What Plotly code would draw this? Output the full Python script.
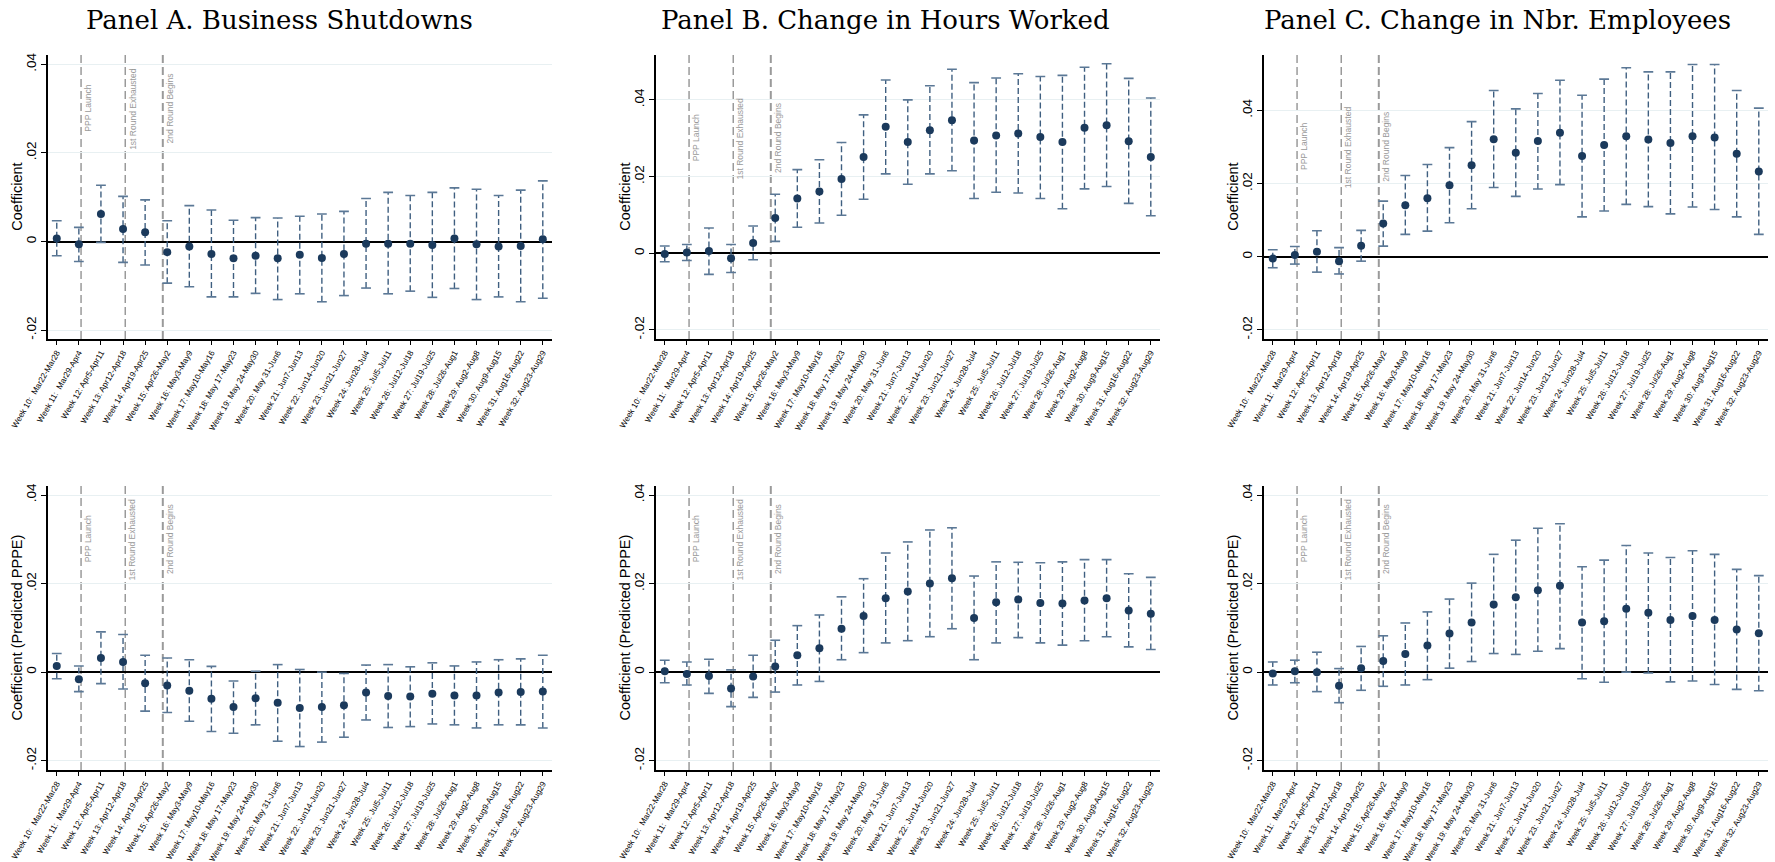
import plotly.graph_objects as go

# ---------------------------------------------------------------- data
weeks = list(range(10, 33))
week_labels = [
    "Week 10:  Mar22-Mar28", "Week 11:  Mar29-Apr4", "Week 12: Apr5-Apr11",
    "Week 13: Apr12-Apr18", "Week 14: Apr19-Apr25", "Week 15: Apr26-May2",
    "Week 16: May3-May9", "Week 17: May10-May16", "Week 18: May 17-May23",
    "Week 19: May 24-May30", "Week 20: May 31-Jun6", "Week 21: Jun7-Jun13",
    "Week 22: Jun14-Jun20", "Week 23: Jun21-Jun27", "Week 24: Jun28-Jul4",
    "Week 25: Jul5-Jul11", "Week 26: Jul12-Jul18", "Week 27: Jul19-Jul25",
    "Week 28: Jul26-Aug1", "Week 29: Aug2-Aug8", "Week 30: Aug9-Aug15",
    "Week 31: Aug16-Aug22", "Week 32: Aug23-Aug29",
]

# PPP milestones (position on the week axis) and their labels
event_weeks = [11.1, 13.1, 14.8]
event_labels = ["PPP Launch", "1st Round Exhausted", "2nd Round Begins"]

# Panel A: business shutdowns
shut_coef = [0.0007, -0.0006, 0.0062, 0.0028, 0.0021, -0.0024, -0.0011, -0.0028,
             -0.0038, -0.0032, -0.0038, -0.0030, -0.0037, -0.0028, -0.0005, -0.0005,
             -0.0005, -0.0008, 0.0007, -0.0006, -0.0011, -0.0010, 0.0005]
shut_lo = [-0.0032, -0.0045, -0.0002, -0.0047, -0.0053, -0.0094, -0.0102, -0.0125,
           -0.0125, -0.0117, -0.0131, -0.0118, -0.0136, -0.0122, -0.0105, -0.0118,
           -0.0112, -0.0126, -0.0106, -0.0131, -0.0125, -0.0136, -0.0128]
shut_hi = [0.0047, 0.0032, 0.0127, 0.0102, 0.0094, 0.0047, 0.0081, 0.0071,
           0.0048, 0.0054, 0.0053, 0.0057, 0.0062, 0.0068, 0.0097, 0.0111,
           0.0104, 0.0111, 0.0121, 0.0118, 0.0104, 0.0116, 0.0137]

# Panel B: change in hours worked
hours_coef = [-0.0002, 0.0002, 0.0006, -0.0013, 0.0027, 0.0092, 0.0143, 0.0161,
              0.0194, 0.0251, 0.0330, 0.0290, 0.0321, 0.0347, 0.0294, 0.0307,
              0.0312, 0.0303, 0.0290, 0.0327, 0.0334, 0.0292, 0.0251]
hours_lo = [-0.0022, -0.0019, -0.0055, -0.0050, -0.0017, 0.0031, 0.0068, 0.0079,
            0.0099, 0.0141, 0.0207, 0.0180, 0.0207, 0.0215, 0.0143, 0.0159,
            0.0157, 0.0143, 0.0116, 0.0168, 0.0174, 0.0130, 0.0098]
hours_hi = [0.0019, 0.0023, 0.0066, 0.0023, 0.0071, 0.0154, 0.0218, 0.0244,
            0.0289, 0.0361, 0.0452, 0.0400, 0.0437, 0.0480, 0.0445, 0.0457,
            0.0468, 0.0461, 0.0464, 0.0485, 0.0494, 0.0456, 0.0405]

# Panel C: change in number of employees
emp_coef = [-0.0005, 0.0005, 0.0014, -0.0012, 0.0030, 0.0091, 0.0141, 0.0160,
            0.0195, 0.0250, 0.0321, 0.0284, 0.0316, 0.0339, 0.0275, 0.0305,
            0.0329, 0.0320, 0.0311, 0.0329, 0.0326, 0.0281, 0.0233]
emp_lo = [-0.0030, -0.0020, -0.0042, -0.0047, -0.0012, 0.0029, 0.0061, 0.0070,
          0.0093, 0.0131, 0.0189, 0.0165, 0.0185, 0.0197, 0.0109, 0.0125,
          0.0143, 0.0137, 0.0117, 0.0136, 0.0129, 0.0109, 0.0061]
emp_hi = [0.0019, 0.0028, 0.0071, 0.0025, 0.0072, 0.0152, 0.0222, 0.0252,
          0.0298, 0.0369, 0.0454, 0.0404, 0.0446, 0.0482, 0.0441, 0.0485,
          0.0516, 0.0505, 0.0505, 0.0525, 0.0525, 0.0454, 0.0406]

# Predicted-PPPE versions
shut_pppe_coef = [0.0014, -0.0016, 0.0032, 0.0023, -0.0025, -0.0030, -0.0042, -0.0060,
                  -0.0079, -0.0059, -0.0069, -0.0081, -0.0079, -0.0075, -0.0046, -0.0054,
                  -0.0055, -0.0049, -0.0053, -0.0053, -0.0046, -0.0045, -0.0044]
shut_pppe_lo = [-0.0015, -0.0044, -0.0026, -0.0038, -0.0088, -0.0091, -0.0111, -0.0134,
                -0.0138, -0.0119, -0.0156, -0.0168, -0.0158, -0.0147, -0.0108, -0.0125,
                -0.0123, -0.0117, -0.0119, -0.0126, -0.0119, -0.0119, -0.0126]
shut_pppe_hi = [0.0042, 0.0014, 0.0091, 0.0085, 0.0038, 0.0032, 0.0028, 0.0013,
                -0.0020, 0.0002, 0.0017, 0.0006, 0.0000, -0.0003, 0.0016, 0.0017,
                0.0012, 0.0021, 0.0014, 0.0023, 0.0028, 0.0030, 0.0038]

hours_pppe_coef = [0.0002, -0.0004, -0.0009, -0.0037, -0.0010, 0.0013, 0.0038, 0.0054,
                   0.0098, 0.0127, 0.0167, 0.0182, 0.0200, 0.0212, 0.0122, 0.0158,
                   0.0164, 0.0156, 0.0155, 0.0162, 0.0167, 0.0139, 0.0132]
hours_pppe_lo = [-0.0024, -0.0029, -0.0048, -0.0078, -0.0057, -0.0045, -0.0029, -0.0021,
                 0.0028, 0.0044, 0.0066, 0.0071, 0.0080, 0.0098, 0.0028, 0.0066,
                 0.0078, 0.0066, 0.0061, 0.0071, 0.0080, 0.0057, 0.0051]
hours_pppe_hi = [0.0027, 0.0023, 0.0029, 0.0005, 0.0038, 0.0072, 0.0105, 0.0129,
                 0.0170, 0.0211, 0.0269, 0.0294, 0.0321, 0.0326, 0.0217, 0.0249,
                 0.0248, 0.0247, 0.0249, 0.0254, 0.0254, 0.0222, 0.0214]

emp_pppe_coef = [-0.0003, 0.0002, 0.0000, -0.0031, 0.0009, 0.0025, 0.0041, 0.0060,
                 0.0087, 0.0112, 0.0153, 0.0169, 0.0185, 0.0195, 0.0112, 0.0115,
                 0.0143, 0.0134, 0.0118, 0.0127, 0.0118, 0.0096, 0.0088]
emp_pppe_lo = [-0.0029, -0.0024, -0.0044, -0.0069, -0.0041, -0.0032, -0.0029, -0.0017,
               0.0009, 0.0024, 0.0042, 0.0040, 0.0047, 0.0053, -0.0015, -0.0023,
               0.0000, -0.0002, -0.0022, -0.0020, -0.0028, -0.0039, -0.0042]
emp_pppe_hi = [0.0023, 0.0027, 0.0045, 0.0008, 0.0058, 0.0082, 0.0111, 0.0136,
               0.0165, 0.0201, 0.0266, 0.0298, 0.0325, 0.0335, 0.0238, 0.0253,
               0.0286, 0.0269, 0.0259, 0.0274, 0.0266, 0.0232, 0.0218]

panel_titles = ["Panel A. Business Shutdowns", "Panel B. Change in Hours Worked",
                "Panel C. Change in Nbr. Employees"]
y_titles = ["Coefficient", "Coefficient (Predicted PPPE)"]
y_tickvals = [-0.02, 0, 0.02, 0.04]
y_ticktext = ["-.02", "0", ".02", ".04"]

# ---------------------------------------------------------------- styling
W, H = 1775, 862
DOT = "#1b3a5c"
BAR = "#3f5f80"
CAP = "#5b7896"
EVENT = "#9a9a9a"
GRID = "#e8f0f2"
SANS = "Liberation Sans, Arial, sans-serif"
SERIF = "DejaVu Serif, Liberation Serif, serif"

col_x = [(47.7, 552.3), (655.7, 1160.3), (1263.7, 1768.3)]   # px
row_y = [(55.0, 339.0), (485.7, 770.0)]                      # px from top
x_range = [9.59, 32.43]
y_ranges = [
    [[-0.0220, 0.0421], [-0.02235, 0.0517], [-0.02246, 0.0551]],
    [[-0.0221, 0.0421], [-0.0221, 0.0421], [-0.0221, 0.0421]],
]

series = [
    [(shut_coef, shut_lo, shut_hi), (hours_coef, hours_lo, hours_hi), (emp_coef, emp_lo, emp_hi)],
    [(shut_pppe_coef, shut_pppe_lo, shut_pppe_hi),
     (hours_pppe_coef, hours_pppe_lo, hours_pppe_hi),
     (emp_pppe_coef, emp_pppe_lo, emp_pppe_hi)],
]

fig = go.Figure()
annotations = []
shapes = []
layout = {}

n = 0
for r in range(2):
    for c in range(3):
        n += 1
        xs = "" if n == 1 else str(n)
        xref, yref = "x" + xs, "y" + xs
        coef, lo, hi = series[r][c]

        # dashed confidence intervals
        bx, by = [], []
        for w, l, h in zip(weeks, lo, hi):
            bx += [w, w, None]
            by += [l, h, None]
        fig.add_trace(go.Scatter(x=bx, y=by, mode="lines", xaxis=xref, yaxis=yref,
                                 line=dict(color=BAR, width=1.4, dash="6px,3px"),
                                 hoverinfo="skip", showlegend=False))
        # caps at the interval ends
        fig.add_trace(go.Scatter(x=weeks + weeks, y=lo + hi, mode="markers",
                                 xaxis=xref, yaxis=yref,
                                 marker=dict(symbol="line-ew", size=7,
                                             line=dict(color=CAP, width=1.6)),
                                 hoverinfo="skip", showlegend=False))
        # point estimates
        fig.add_trace(go.Scatter(x=weeks, y=coef, mode="markers", xaxis=xref, yaxis=yref,
                                 marker=dict(color=DOT, size=8),
                                 showlegend=False))

        x0, x1 = col_x[c]
        yt, yb = row_y[r]
        layout["xaxis" + xs] = dict(
            domain=[x0 / W, x1 / W], anchor=yref, range=x_range,
            tickmode="array", tickvals=weeks, ticktext=week_labels, tickangle=-60,
            tickfont=dict(family=SANS, size=8.2, color="black"),
            ticks="outside", ticklen=4, tickwidth=1.2, tickcolor="black",
            showline=True, linecolor="black", linewidth=1.5,
            showgrid=False, zeroline=False, automargin=False,
        )
        layout["yaxis" + xs] = dict(
            domain=[1 - yb / H, 1 - yt / H], anchor=xref, range=y_ranges[r][c],
            tickmode="array", tickvals=y_tickvals, ticktext=y_ticktext, tickangle=-90,
            tickfont=dict(family=SANS, size=13.5, color="black"),
            ticks="outside", ticklen=5, tickwidth=1.2, tickcolor="black",
            showline=True, linecolor="black", linewidth=1.5,
            showgrid=True, gridcolor=GRID, gridwidth=1.3,
            zeroline=True, zerolinecolor="black", zerolinewidth=1.6,
            automargin=False,
        )

        # axis title, centred on the plot height
        annotations.append(dict(x=0, y=0.5, xref=xref + " domain", yref=yref + " domain",
                                text=y_titles[r], textangle=-90, showarrow=False,
                                xanchor="center", yanchor="middle", xshift=-31,
                                font=dict(family=SANS, size=14.5, color="black")))

        for k, (ev, lab) in enumerate(zip(event_weeks, event_labels)):
            shapes.append(dict(type="line", xref=xref, yref=yref + " domain",
                               x0=ev, x1=ev, y0=0, y1=1,
                               line=dict(color=EVENT, width=2.0 if k == 2 else 1.5,
                                         dash="8px,4px"),
                               layer="below"))
            annotations.append(dict(x=ev, y=0.03, xref=xref, yref=yref, text=lab,
                                    textangle=-90, showarrow=False, xanchor="left",
                                    yanchor="middle", xshift=0,
                                    font=dict(family=SANS, size=8.5, color=EVENT)))

title_x = [279, 885, 1497]
for c, t in enumerate(panel_titles):
    annotations.append(dict(x=title_x[c] / W, y=1 - 20 / H, xref="paper", yref="paper",
                            text=t, showarrow=False, xanchor="center", yanchor="middle",
                            font=dict(family=SERIF, size=26, color="black")))

fig.update_layout(
    width=W, height=H, margin=dict(l=0, r=0, t=0, b=0),
    paper_bgcolor="white", plot_bgcolor="white",
    annotations=annotations, shapes=shapes, showlegend=False,
    **layout,
)

fig.write_html("out.html", config={"displayModeBar": False})
